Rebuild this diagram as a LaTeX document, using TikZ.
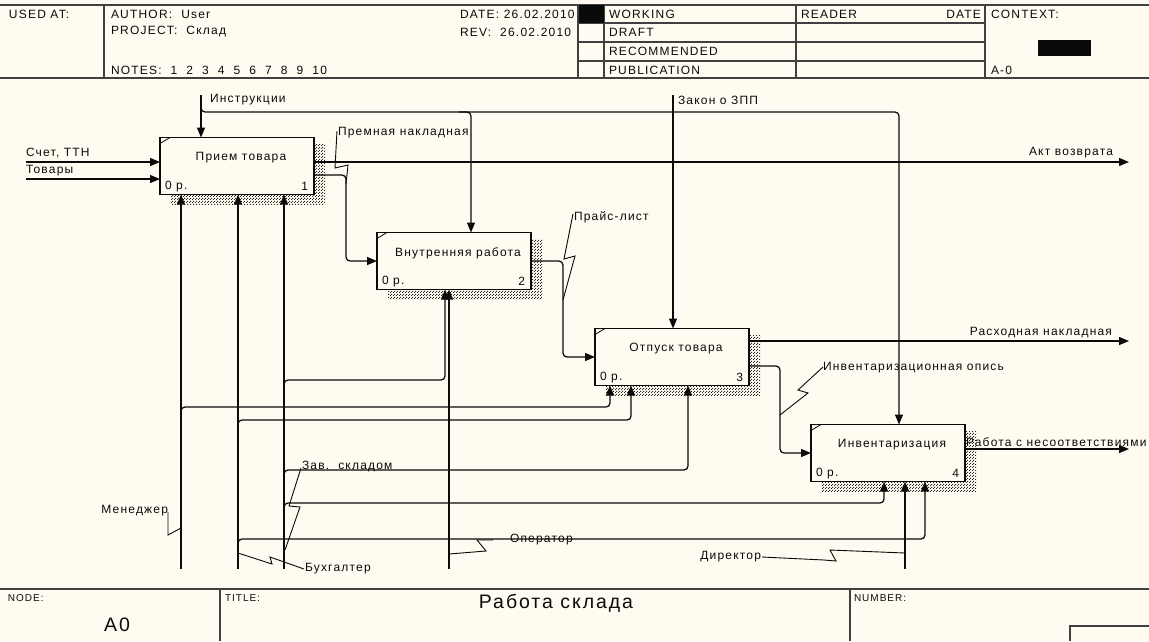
\documentclass[tikz,border=0pt]{standalone}
\usepackage{fontspec}
\setmainfont[LetterSpace=10]{Liberation Sans}
\usetikzlibrary{arrows.meta,patterns,calc,backgrounds}
\definecolor{bg}{RGB}{255,251,240}
\definecolor{ink}{RGB}{10,10,10}
\pgfdeclarepatternformonly{finechk}{\pgfqpoint{0pt}{0pt}}{\pgfqpoint{3pt}{3pt}}{\pgfqpoint{3pt}{3pt}}{%
  \pgfpathrectangle{\pgfqpoint{0pt}{0pt}}{\pgfqpoint{1.2pt}{1.2pt}}%
  \pgfpathrectangle{\pgfqpoint{1.5pt}{1.5pt}}{\pgfqpoint{1.2pt}{1.2pt}}%
  \pgfusepath{fill}}
\begin{document}
\begin{tikzpicture}[x=1pt,y=-1pt,
  every node/.style={inner sep=0pt,outer sep=0pt},
  txt/.style={font=\fontsize{12}{14}\selectfont,text=ink},
  small/.style={font=\fontsize{10}{12}\selectfont,text=ink,anchor=west},
  big/.style={font=\fontsize{19.5}{22}\selectfont,text=ink},
  arr/.style={draw=ink,line width=1.25pt,rounded corners=4pt,-{Triangle[length=10pt,width=8pt]}},
  lead/.style={draw=ink,line width=0.9pt},
  frame/.style={draw=black!75,line width=1.6pt},
  funcbox/.style={draw=ink,line width=1.4pt,fill=bg,minimum width=154pt,minimum height=57pt},
  hatch/.style={pattern=finechk,pattern color=black!85}]
\useasboundingbox (0,0) rectangle (1149,641);

% ---------- header ----------
\draw[frame] (0,5) -- (1149,5);
\draw[frame] (0,78) -- (1149,78);
\foreach \xx in {104,578,604,796,985} \draw[frame] (\xx,5) -- (\xx,78);
\foreach \yy in {23,42,61} \draw[frame] (578,\yy) -- (985,\yy);
\fill[ink] (579,5) rectangle (604,23);
\fill[ink] (1038,40) rectangle (1091,56);
\node[txt,anchor=west] (usedat) at (9,14) {USED AT:};
\node[txt,anchor=west] (author) at (111,14) {AUTHOR:\ \ User};
\node[txt,anchor=west] (project) at (111,32) {PROJECT:\ \ Склад};
\node[txt,anchor=west] (notes) at (111,70) {NOTES:\ \ 1\ \ 2\ \ 3\ \ 4\ \ 5\ \ 6\ \ 7\ \ 8\ \ 9\ \ 10};
\node[txt,anchor=west] (date) at (460,14) {DATE: 26.02.2010};
\node[txt,anchor=west] (rev) at (460,32) {REV:\ \ 26.02.2010};
\node[txt,anchor=west] (working) at (609,14) {WORKING};
\node[txt,anchor=west] (draft) at (609,32) {DRAFT};
\node[txt,anchor=west] (recom) at (609,51) {RECOMMENDED};
\node[txt,anchor=west] (publ) at (609,70) {PUBLICATION};
\node[txt,anchor=west] (reader) at (801,14) {READER};
\node[txt,anchor=east] (rdate) at (981,14) {DATE};
\node[txt,anchor=west] (context) at (991,14) {CONTEXT:};
\node[txt,anchor=west] (a0ctx) at (991,70) {A-0};

% ---------- footer ----------
\draw[frame] (0,589) -- (1149,589);
\draw[frame] (220,589) -- (220,641);
\draw[frame] (850,589) -- (850,641);
\draw[frame] (1070,641) |- (1149,626);
\node[small] (nodelbl) at (8,598) {NODE:};
\node[small] (titlelbl) at (225,598) {TITLE:};
\node[small] (numlbl) at (854,598) {NUMBER:};
\node[big] (a0) at (117,625) {A0};
\node[big] (title) at (556,603) {Работа склада};

% ---------- function boxes ----------
\node[funcbox] (b1) at (237,166) {};
\node[funcbox] (b2) at (454,261) {};
\node[funcbox] (b3) at (672,357) {};
\node[funcbox] (b4) at (888,453) {};
\node[txt] (b1t) at ($(b1.north)+(4,20.5)$) {Прием товара};
\node[txt] (b2t) at ($(b2.north)+(4,20.5)$) {Внутренняя работа};
\node[txt] (b3t) at ($(b3.north)+(4,20.5)$) {Отпуск товара};
\node[txt] (b4t) at ($(b4.north)+(4,20.5)$) {Инвентаризация};
\foreach \bx/\nn in {b1/1,b2/2,b3/3,b4/4} {
  \draw[ink,line width=0.8pt] ($(\bx.north west)+(0,6)$) -- ($(\bx.north west)+(10,0)$);
  \node[txt,anchor=west] (\bx-c) at ($(\bx.south west)+(5,-8)$) {0 р.};
  \node[txt,anchor=east] (\bx-n) at ($(\bx.south east)+(-6,-8)$) {\nn};
}
\begin{scope}[on background layer]
  \fill[bg] (0,0) rectangle (1149,641);
  \foreach \bx in {b1,b2,b3,b4}
    \fill[hatch] ($(\bx.north west)+(11,7)$) rectangle ($(\bx.south east)+(11,10)$);
\end{scope}

% ---------- inputs ----------
\coordinate (in1) at (26,162);
\coordinate (in2) at (26,179);
\draw[arr] (in1) -- (in1 -| b1.west);
\draw[arr] (in2) -- (in2 -| b1.west);
\node[txt,anchor=west] (lin1) at (26,153) {Счет, ТТН};
\node[txt,anchor=west] (lin2) at (26,171) {Товары};

% ---------- controls ----------
\coordinate (ct1) at (201,95);
\coordinate (ct1b) at (201,106);
\coordinate (k2) at (471,112);
\coordinate (k2s) at (459,112);
\coordinate (k4) at (899,112);
\draw[arr] (ct1) -- (ct1 |- b1.north);
\draw[arr] (ct1b) |- (k4) -- (k4 |- b4.north);
\draw[arr] (k2s) -| (k2 |- b2.north);
\node[txt,anchor=west] (lct1) at (210,100) {Инструкции};
\coordinate (ct3) at (673,95);
\draw[arr] (ct3) -- (ct3 |- b3.north);
\node[txt,anchor=west] (lct3) at (678,100) {Закон о ЗПП};

% ---------- outputs ----------
\coordinate (o1) at (1129,162);
\coordinate (o3) at (1129,341);
\coordinate (o4) at (1129,449);
\draw[arr] (o1 -| b1.east) -- (o1);
\draw[arr] (o3 -| b3.east) -- (o3);
\draw[arr] (o4 -| b4.east) -- (o4);
\node[txt,anchor=east] (lo1) at (1113,153) {Акт возврата};
\node[txt,anchor=east] (lo3) at (1112,333) {Расходная накладная};
\node[txt,anchor=west] (lo4) at (966,442) {Работа с несоответствиями};

% ---------- box to box ----------
\coordinate (p1) at (346,175);
\coordinate (p2) at (563,261);
\coordinate (p3) at (780,366);
\draw[arr] (p1 -| b1.east) -- (p1) -- (p1 |- b2.west) -- (b2.west);
\draw[arr] (b2.east) -- (p2) -- (p2 |- b3.west) -- (b3.west);
\draw[arr] (p3 -| b3.east) -- (p3) -- (p3 |- b4.west) -- (b4.west);
\node[txt,anchor=west] (lp1) at (338,133) {Премная накладная};
\node[txt,anchor=west] (lp2) at (574,217) {Прайс-лист};
\node[txt,anchor=west] (lp3) at (823,368) {Инвентаризационная опись};
\draw[lead] (337,131) -- (335,168) -- (348,165) -- (346,184);
\draw[lead] (573,214) -- (564,259) -- (575,256) -- (563,300);
\draw[lead] (823,367) -- (798,390) -- (808,393) -- (780,415);

% ---------- mechanisms ----------
\coordinate (m1) at (181,569);
\coordinate (m2) at (238,569);
\coordinate (m3) at (284,569);
\coordinate (m4) at (449,569);
\coordinate (m5) at (905,569);
\draw[arr] (m1) -- (m1 |- b1.south);
\draw[arr] (m2) -- (m2 |- b1.south);
\draw[arr] (m3) -- (m3 |- b1.south);
\draw[arr] (m4) -- (m4 |- b2.south);
\draw[arr] (m5) -- (m5 |- b4.south);
\coordinate (s1) at (181,414); \coordinate (q1) at (610,407);
\coordinate (s2) at (238,427); \coordinate (q2) at (631,420);
\coordinate (s3) at (238,546); \coordinate (q3) at (925,539);
\coordinate (s4) at (284,387); \coordinate (q4) at (445,380);
\coordinate (s5) at (284,477); \coordinate (q5) at (688,470);
\coordinate (s6) at (284,510); \coordinate (q6) at (884,503);
\draw[arr] (s1) |- (q1) -- (q1 |- b3.south);
\draw[arr] (s2) |- (q2) -- (q2 |- b3.south);
\draw[arr] (s3) |- (q3) -- (q3 |- b4.south);
\draw[arr] (s4) |- (q4) -- (q4 |- b2.south);
\draw[arr] (s5) |- (q5) -- (q5 |- b3.south);
\draw[arr] (s6) |- (q6) -- (q6 |- b4.south);
\node[txt,anchor=east] (lm1) at (168,511) {Менеджер};
\node[txt,anchor=west] (lm2) at (305,569) {Бухгалтер};
\node[txt,anchor=west] (lm3) at (302,466) {Зав.\ \ складом};
\node[txt,anchor=west] (lm4) at (510,540) {Оператор};
\node[txt,anchor=east] (lm5) at (761,557) {Директор};
\draw[lead] (168,512) -- (168,535) -- (181,528);
\draw[lead] (238,553) -- (272,564) -- (270,557) -- (304,569);
\draw[lead] (301,468) -- (289,506) -- (300,507) -- (285,550);
\draw[lead] (493,540) -- (477,540) -- (486,551) -- (449,554);
\draw[lead] (762,557) -- (824,560) -- (836,561) -- (830,550) -- (905,553);
\end{tikzpicture}
\end{document}
